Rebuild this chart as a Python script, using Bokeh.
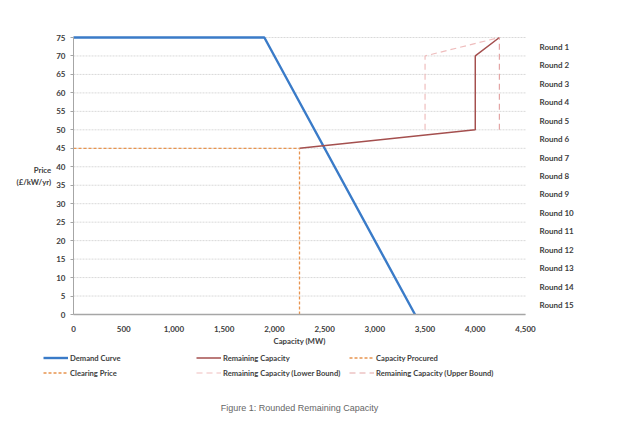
from bokeh.plotting import figure
from bokeh.models import (Range1d, LinearAxis, FixedTicker, NumeralTickFormatter,
                          Legend, LegendItem, Label)
from bokeh.embed import file_html
from bokeh.resources import INLINE

# ---- data ----
demand_x = [0, 1900, 3400]
demand_y = [75, 75, 0]
remaining_x = [2250, 4000, 4000, 4240]
remaining_y = [45, 50, 70, 75]
procured_x = [2250, 2250]
procured_y = [0, 45]
clearing_x = [0, 2250]
clearing_y = [45, 45]
lower_x = [3500, 3500, 4240]
lower_y = [50, 70, 75]
upper_x = [4240, 4240]
upper_y = [50, 75]

x_ticks = [0, 500, 1000, 1500, 2000, 2500, 3000, 3500, 4000, 4500]
y_ticks = [0, 5, 10, 15, 20, 25, 30, 35, 40, 45, 50, 55, 60, 65, 70, 75]
round_labels = ["Round %d" % i for i in range(1, 16)]
round_pos = [72.5 - 5 * i for i in range(15)]
legend_labels = ["Demand Curve", "Remaining Capacity", "Capacity Procured",
                 "Clearing Price", "Remaining Capacity (Lower Bound)",
                 "Remaining Capacity (Upper Bound)"]
caption = "Figure 1: Rounded Remaining Capacity"

FONT = "Lato"
TXT = "#404040"
ORANGE = "#e8944f"
styles = [
    dict(line_color="#3a7bc8", line_width=2.4),
    dict(line_color="#a44f4e", line_width=1.5),
    dict(line_color=ORANGE, line_width=1.3, line_dash="3 2"),
    dict(line_color=ORANGE, line_width=1.3, line_dash="3 2"),
    dict(line_color="#efbdbd", line_width=1.2, line_dash="6 4"),
    dict(line_color="#e3a6a6", line_width=1.2, line_dash="6 4"),
]

# canvas geometry (pixels): plot area spans x 73..525, y 37..314 on a 608x418 canvas
W, H = 608, 418
L, R, T, B = 73, 525, 37, 314
XMAX, YMAX = 4500, 75
sx = XMAX / (R - L)
sy = YMAX / (B - T)

p = figure(width=W, height=H, output_backend="svg", toolbar_location=None,
           x_axis_type=None, y_axis_type=None,
           x_range=Range1d(-L * sx, (W - L) * sx),
           y_range=Range1d(-(H - B) * sy, B * sy),
           min_border_left=0, min_border_right=0, min_border_top=0,
           min_border_bottom=0, outline_line_color=None)

# horizontal gridlines across the plot area only
p.segment(x0=0, x1=XMAX, y0=y_ticks, y1=y_ticks, line_color="#d9d9d9",
          line_width=1, line_dash="2 1")

# x axis
xa = LinearAxis(fixed_location=0, bounds=(0, XMAX), ticker=FixedTicker(ticks=x_ticks),
                formatter=NumeralTickFormatter(format="0,0"))
xa.axis_line_color = "#a6a6a6"
xa.axis_line_width = 1.5
xa.major_tick_line_color = None
xa.minor_tick_line_color = None
xa.major_label_standoff = 5
xa.major_label_text_font = FONT
xa.major_label_text_font_style = "bold"
xa.major_label_text_font_size = "8px"
xa.major_label_text_color = TXT
xa.axis_label = "Capacity (MW)"
xa.axis_label_text_font = FONT
xa.axis_label_text_font_style = "bold"
xa.axis_label_text_font_size = "7.8px"
xa.axis_label_text_color = TXT
xa.axis_label_standoff = 1
p.add_layout(xa, "below")

# y axis
ya = LinearAxis(fixed_location=0, bounds=(0, YMAX), ticker=FixedTicker(ticks=y_ticks))
ya.axis_line_color = "#a6a6a6"
ya.major_tick_line_color = "#a6a6a6"
ya.major_tick_out = 3
ya.major_tick_in = 0
ya.minor_tick_line_color = None
ya.major_label_standoff = 5
ya.major_label_text_font = FONT
ya.major_label_text_font_style = "bold"
ya.major_label_text_font_size = "8px"
ya.major_label_text_color = TXT
ya.axis_label = "Price\n(£/kW/yr)"
ya.axis_label_orientation = "horizontal"
ya.axis_label_text_font = FONT
ya.axis_label_text_font_style = "bold"
ya.axis_label_text_font_size = "7.8px"
ya.axis_label_text_color = TXT
ya.axis_label_text_align = "center"
ya.axis_label_standoff = 2
p.add_layout(ya, "left")

# right axis with round labels
ra = LinearAxis(fixed_location=XMAX, bounds=(0, YMAX), ticker=FixedTicker(ticks=round_pos),
                major_label_overrides={pos: lab for pos, lab in zip(round_pos, round_labels)})
ra.axis_line_color = None
ra.major_tick_line_color = None
ra.minor_tick_line_color = None
ra.major_label_standoff = 8
ra.major_label_text_font = FONT
ra.major_label_text_font_style = "bold"
ra.major_label_text_font_size = "8px"
ra.major_label_text_color = TXT
p.add_layout(ra, "right")

# series
series = [(demand_x, demand_y), (remaining_x, remaining_y), (procured_x, procured_y),
          (clearing_x, clearing_y), (lower_x, lower_y), (upper_x, upper_y)]
renderers = [p.line(xs, ys, **st) for (xs, ys), st in zip(series, styles)]

# legend: 2 rows x 3 columns, filled column by column
order = [0, 3, 1, 4, 2, 5]
items = [LegendItem(label=legend_labels[i], renderers=[renderers[i]]) for i in order]
legend = Legend(items=items, ncols=3, location=(43, 40))
legend.glyph_width = 25
legend.glyph_height = 11
legend.label_height = 11
legend.label_width = 122
legend.label_standoff = 2
legend.spacing = 4
legend.padding = 0
legend.margin = 0
legend.border_line_color = None
legend.background_fill_alpha = 0
legend.label_text_font = FONT
legend.label_text_font_style = "bold"
legend.label_text_font_size = "7.6px"
legend.label_text_color = TXT
p.add_layout(legend, "center")

p.add_layout(Label(x=2250, y=-(407 - B) * sy, text=caption, text_align="center",
                   text_baseline="middle", text_font="Liberation Sans",
                   text_font_size="9px", text_color="#666666"))

open("out.html", "w").write(file_html(p, INLINE))
